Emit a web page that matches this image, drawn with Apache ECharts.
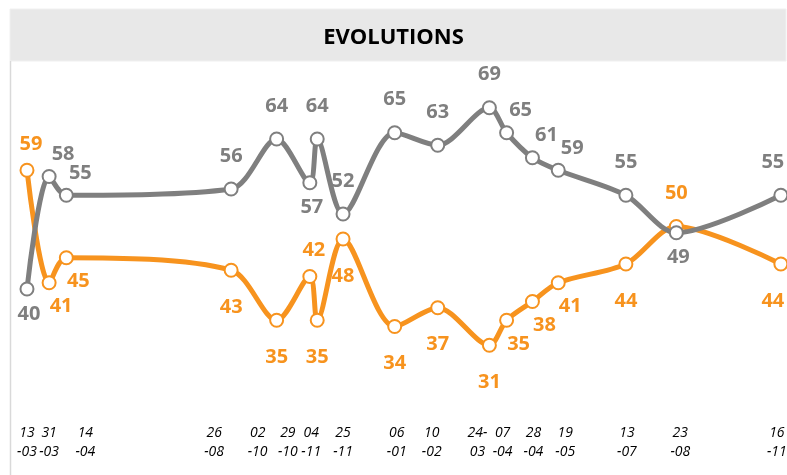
<!DOCTYPE html>
<html>
<head>
<meta charset="utf-8">
<script src="https://cdn.jsdelivr.net/npm/echarts@6/dist/echarts.min.js"></script>
<style>
  html, body { margin: 0; padding: 0; background: #fff; }
  #chart { width: 787px; height: 475px; }
</style>
</head>
<body>
<div id="chart"></div>
<script>
// dates des sondages
var dates = ['2017-03-13', '2017-03-31', '2017-04-14', '2017-08-26', '2017-10-02', '2017-10-29',
    '2017-11-04', '2017-11-25', '2018-01-06', '2018-02-10', '2018-03-24', '2018-04-07',
    '2018-04-28', '2018-05-19', '2018-07-13', '2018-08-23', '2018-11-16'];
var tickLabels = ['13\n-03', '31\n-03', '14\n-04', '26\n-08', '02\n-10', '29\n-10', '04\n-11', '25\n-11',
    '06\n-01', '10\n-02', '24-\n03', '07\n-04', '28\n-04', '19\n-05', '13\n-07', '23\n-08', '16\n-11'];
var grayValues = [40, 58, 55, 56, 64, 57, 64, 52, 65, 63, 69, 65, 61, 59, 55, 49, 55];
var orangeValues = [59, 41, 45, 43, 35, 42, 35, 48, 34, 37, 31, 35, 38, 41, 44, 50, 44];

// placement des étiquettes
var grayLabelPos = ['bs', 'tr', 'tr', 't', 't', 'bs', 't', 't', 't', 't', 't', 'tr', 'tr', 'tr', 't', 'bs', 'tl'];
var orangeLabelPos = ['ts', 'br', 'br', 'b', 'b', 'ts', 'b', 'b', 'b', 'b', 'b', 'br', 'br', 'br', 'b', 't', 'bl'];
var tickShift = [0, 0, 19, -17, -19, -22, -6, 0, 2, -6, -12, -4, 1, 7, 1, 4, -4];

var GRAY = '#7f7f7f';
var ORANGE = '#f7931e';

var offsets = {
    t: [0, -33],
    tl: [-8, -33],
    ts: [4, -26],
    b: [0, 37],
    bl: [-8, 37],
    bs: [2, 25],
    tr: [14, -22],
    br: [12, 24]
};

// jours depuis le 28-02-2017
var ORIGIN = '2017-02-28';
function toDay(s) {
    var p = s.split('-'), o = ORIGIN.split('-');
    return Math.round((Date.UTC(+p[0], +p[1] - 1, +p[2]) - Date.UTC(+o[0], +o[1] - 1, +o[2])) / 86400000);
}

var days = dates.map(toDay);

function buildSeries(name, values, pos, color, z) {
    var data = values.map(function(v, i) {
        return {
            value: [days[i], v],
            label: { offset: offsets[pos[i]] }
        };
    });
    return {
        name: name,
        type: 'line',
        data: data,
        smooth: 0.3,
        z: z,
        symbol: 'circle',
        symbolSize: 13,
        showAllSymbol: true,
        lineStyle: { color: color, width: 5 },
        itemStyle: { color: '#fff', borderColor: color, borderWidth: 2 },
        label: {
            show: true,
            position: 'inside',
            color: color,
            fontFamily: 'Open Sans',
            fontWeight: 'bold',
            fontSize: 20,
            formatter: function(p) { return p.value[1]; }
        },
        emphasis: { disabled: true }
    };
}

var rich = {};
tickShift.forEach(function(s, i) {
    rich['p' + i] = {
        fontFamily: 'Open Sans',
        fontStyle: 'italic',
        fontSize: 14,
        color: '#000',
        lineHeight: 19,
        padding: s > 0 ? [0, 0, 0, 2 * s] : [0, -2 * s, 0, 0]
    };
});

var chart = echarts.init(document.getElementById('chart'));
chart.setOption({
    animation: false,
    backgroundColor: '#fff',
    title: {
        text: 'EVOLUTIONS',
        left: 'center',
        top: 22,
        textStyle: { fontFamily: 'Open Sans', fontWeight: 'bold', fontSize: 22, color: '#000' }
    },
    graphic: [
        { type: 'rect', z: -1, shape: { x: 10, y: 9, width: 776, height: 52 },
          style: { fill: '#e8e8e8', stroke: '#f0f0f0', lineWidth: 1 } },
        { type: 'line', z: -1, shape: { x1: 10.5, y1: 61, x2: 10.5, y2: 475 },
          style: { stroke: '#d9d9d9', lineWidth: 1.5 } }
    ],
    grid: { left: 11, right: 0, top: 64, height: 350, outerBoundsMode: 'none' },
    xAxis: {
        type: 'value',
        min: 0,
        max: toDay('2018-11-21'),
        axisLine: { show: false },
        axisTick: { show: false },
        splitLine: { show: false },
        axisLabel: {
            customValues: days,
            hideOverlap: false,
            showMinLabel: true,
            showMaxLabel: true,
            margin: 10,
            rich: rich,
            formatter: function(v) {
                var i = days.indexOf(v);
                if (i < 0) return '';
                return tickLabels[i].split('\n').map(function(t) {
                    return '{p' + i + '|' + t + '}';
                }).join('\n');
            }
        }
    },
    yAxis: {
        type: 'value',
        min: 20,
        max: 76,
        show: false
    },
    series: [
        buildSeries('orange', orangeValues, orangeLabelPos, ORANGE, 2),
        buildSeries('gris', grayValues, grayLabelPos, GRAY, 3)
    ]
});
</script>
</body>
</html>
